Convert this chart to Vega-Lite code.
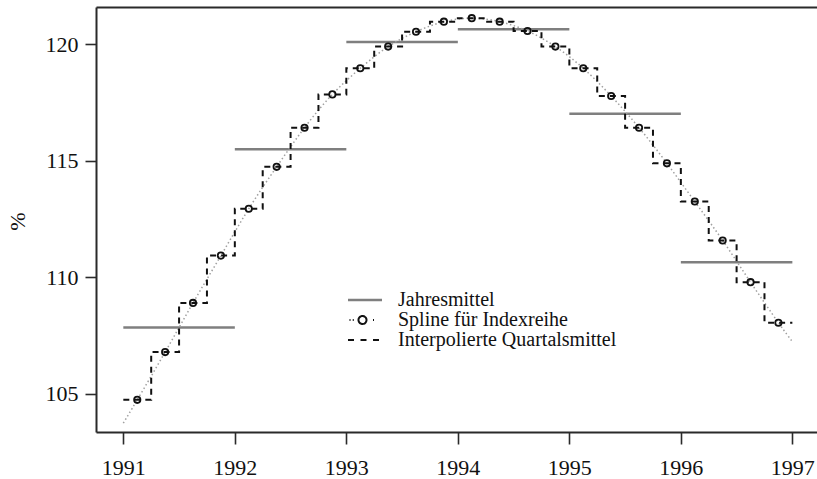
{
  "$schema": "https://vega.github.io/schema/vega-lite/v6.json",
  "autosize": {"type": "none"},
  "width": 721,
  "height": 425,
  "padding": {"left": 96, "top": 7, "right": 0, "bottom": 47},
  "background": "white",
  "config": {
    "view": {"stroke": null},
    "axis": {
      "grid": false,
      "labelFont": "Liberation Serif",
      "labelFontSize": 22,
      "labelColor": "#111",
      "titleFont": "Liberation Serif",
      "titleFontSize": 22,
      "titleFontWeight": "normal",
      "titleColor": "#111",
      "domainColor": "#2a2a2a",
      "domainWidth": 2,
      "tickColor": "#2a2a2a",
      "tickWidth": 1.6
    }
  },
  "datasets": {
    "annual": [
      {"series": "Jahresmittel", "x": 1991, "x2": 1992, "y": 107.84},
      {"series": "Jahresmittel", "x": 1992, "x2": 1993, "y": 115.49},
      {"series": "Jahresmittel", "x": 1993, "x2": 1994, "y": 120.10},
      {"series": "Jahresmittel", "x": 1994, "x2": 1995, "y": 120.64},
      {"series": "Jahresmittel", "x": 1995, "x2": 1996, "y": 117.02},
      {"series": "Jahresmittel", "x": 1996, "x2": 1997, "y": 110.65}
    ],
    "spline": [
      {"series": "Spline für Indexreihe", "x": 1991.0, "y": 103.74},
      {"series": "Spline für Indexreihe", "x": 1991.125, "y": 104.74},
      {"series": "Spline für Indexreihe", "x": 1991.375, "y": 106.79},
      {"series": "Spline für Indexreihe", "x": 1991.625, "y": 108.90},
      {"series": "Spline für Indexreihe", "x": 1991.875, "y": 110.93},
      {"series": "Spline für Indexreihe", "x": 1992.125, "y": 112.94},
      {"series": "Spline für Indexreihe", "x": 1992.375, "y": 114.74},
      {"series": "Spline für Indexreihe", "x": 1992.625, "y": 116.42},
      {"series": "Spline für Indexreihe", "x": 1992.875, "y": 117.85},
      {"series": "Spline für Indexreihe", "x": 1993.125, "y": 118.97},
      {"series": "Spline für Indexreihe", "x": 1993.375, "y": 119.90},
      {"series": "Spline für Indexreihe", "x": 1993.625, "y": 120.54},
      {"series": "Spline für Indexreihe", "x": 1993.875, "y": 120.97},
      {"series": "Spline für Indexreihe", "x": 1994.125, "y": 121.12},
      {"series": "Spline für Indexreihe", "x": 1994.375, "y": 120.97},
      {"series": "Spline für Indexreihe", "x": 1994.625, "y": 120.57},
      {"series": "Spline für Indexreihe", "x": 1994.875, "y": 119.90},
      {"series": "Spline für Indexreihe", "x": 1995.125, "y": 118.97},
      {"series": "Spline für Indexreihe", "x": 1995.375, "y": 117.78},
      {"series": "Spline für Indexreihe", "x": 1995.625, "y": 116.42},
      {"series": "Spline für Indexreihe", "x": 1995.875, "y": 114.89},
      {"series": "Spline für Indexreihe", "x": 1996.125, "y": 113.25},
      {"series": "Spline für Indexreihe", "x": 1996.375, "y": 111.58},
      {"series": "Spline für Indexreihe", "x": 1996.625, "y": 109.79},
      {"series": "Spline für Indexreihe", "x": 1996.875, "y": 108.05},
      {"series": "Spline für Indexreihe", "x": 1997.0, "y": 107.24}
    ],
    "quarters": [
      {"x": 1991.125, "y": 104.74}, {"x": 1991.375, "y": 106.79}, {"x": 1991.625, "y": 108.90}, {"x": 1991.875, "y": 110.93},
      {"x": 1992.125, "y": 112.94}, {"x": 1992.375, "y": 114.74}, {"x": 1992.625, "y": 116.42}, {"x": 1992.875, "y": 117.85},
      {"x": 1993.125, "y": 118.97}, {"x": 1993.375, "y": 119.90}, {"x": 1993.625, "y": 120.54}, {"x": 1993.875, "y": 120.97},
      {"x": 1994.125, "y": 121.12}, {"x": 1994.375, "y": 120.97}, {"x": 1994.625, "y": 120.57}, {"x": 1994.875, "y": 119.90},
      {"x": 1995.125, "y": 118.97}, {"x": 1995.375, "y": 117.78}, {"x": 1995.625, "y": 116.42}, {"x": 1995.875, "y": 114.89},
      {"x": 1996.125, "y": 113.25}, {"x": 1996.375, "y": 111.58}, {"x": 1996.625, "y": 109.79}, {"x": 1996.875, "y": 108.05}
    ],
    "steps": [
      {"series": "Interpolierte Quartalsmittel", "x": 1991.0, "y": 104.74},
      {"series": "Interpolierte Quartalsmittel", "x": 1991.25, "y": 106.79},
      {"series": "Interpolierte Quartalsmittel", "x": 1991.5, "y": 108.90},
      {"series": "Interpolierte Quartalsmittel", "x": 1991.75, "y": 110.93},
      {"series": "Interpolierte Quartalsmittel", "x": 1992.0, "y": 112.94},
      {"series": "Interpolierte Quartalsmittel", "x": 1992.25, "y": 114.74},
      {"series": "Interpolierte Quartalsmittel", "x": 1992.5, "y": 116.42},
      {"series": "Interpolierte Quartalsmittel", "x": 1992.75, "y": 117.85},
      {"series": "Interpolierte Quartalsmittel", "x": 1993.0, "y": 118.97},
      {"series": "Interpolierte Quartalsmittel", "x": 1993.25, "y": 119.90},
      {"series": "Interpolierte Quartalsmittel", "x": 1993.5, "y": 120.54},
      {"series": "Interpolierte Quartalsmittel", "x": 1993.75, "y": 120.97},
      {"series": "Interpolierte Quartalsmittel", "x": 1994.0, "y": 121.12},
      {"series": "Interpolierte Quartalsmittel", "x": 1994.25, "y": 120.97},
      {"series": "Interpolierte Quartalsmittel", "x": 1994.5, "y": 120.57},
      {"series": "Interpolierte Quartalsmittel", "x": 1994.75, "y": 119.90},
      {"series": "Interpolierte Quartalsmittel", "x": 1995.0, "y": 118.97},
      {"series": "Interpolierte Quartalsmittel", "x": 1995.25, "y": 117.78},
      {"series": "Interpolierte Quartalsmittel", "x": 1995.5, "y": 116.42},
      {"series": "Interpolierte Quartalsmittel", "x": 1995.75, "y": 114.89},
      {"series": "Interpolierte Quartalsmittel", "x": 1996.0, "y": 113.25},
      {"series": "Interpolierte Quartalsmittel", "x": 1996.25, "y": 111.58},
      {"series": "Interpolierte Quartalsmittel", "x": 1996.5, "y": 109.79},
      {"series": "Interpolierte Quartalsmittel", "x": 1996.75, "y": 108.05},
      {"series": "Interpolierte Quartalsmittel", "x": 1997.0, "y": 108.05}
    ]
  },
  "resolve": {"axis": {"x": "independent"}},
  "layer": [
    {
      "data": {"name": "annual"},
      "mark": {"type": "rule", "strokeWidth": 2.5},
      "encoding": {
        "x": {"field": "x", "type": "quantitative",
          "scale": {"domain": [1990.755, 1997.221], "nice": false, "zero": false},
          "axis": {"title": null, "values": [1991, 1992, 1993, 1994, 1995, 1996, 1997], "format": "d",
            "tickSize": 12, "labelPadding": 13, "labelFlush": false, "labelOverlap": false}},
        "x2": {"field": "x2"},
        "y": {"field": "y", "type": "quantitative",
          "scale": {"domain": [103.36, 121.6], "nice": false, "zero": false},
          "axis": {"title": "%", "values": [105, 110, 115, 120], "tickSize": 11, "labelPadding": 7,
            "labelFlush": false, "titleX": -67, "titleY": 214, "titleAngle": 270, "titleBaseline": "bottom", "titleAlign": "center"}},
        "color": {"field": "series", "type": "nominal",
          "scale": {"domain": ["Jahresmittel", "Spline für Indexreihe", "Interpolierte Quartalsmittel"],
                    "range": ["#7f7f7f", "#111111", "#111111"]},
          "legend": {
            "title": null,
            "orient": "none",
            "legendX": 259,
            "legendY": 283,
            "padding": 0,
            "rowPadding": 0,
            "symbolOffset": 0,
            "labelOffset": 23,
            "labelFont": "Liberation Serif",
            "labelFontSize": 20,
            "labelColor": "#111",
            "labelLimit": 400,
            "symbolSize": 100,
            "symbolStrokeWidth": 2,
            "symbolType": "stroke",
            "encode": {
              "symbols": {
                "update": {
                  "shape": {"signal": "datum.value === 'Spline für Indexreihe' ? 'M-3.1,0L-2.9,0M-2.45,0L-2.25,0M1.6,0L1.8,0M-1.3,0A0.8,0.8 0 1,0 0.3,0A0.8,0.8 0 1,0 -1.3,0' : 'M-3.4,0L3.4,0'"},
                  "strokeDash": {"signal": "datum.value === 'Interpolierte Quartalsmittel' ? [6,6.5] : [1,0]"},
                  "strokeWidth": {"signal": "datum.value === 'Jahresmittel' ? 2.5 : 2"},
                  "fill": {"value": "transparent"},
                  "opacity": {"value": 1}
                }
              }
            }
          }
        }
      }
    },
    {
      "data": {"name": "spline"},
      "mark": {"type": "line", "interpolate": "natural", "strokeWidth": 1.5, "strokeDash": [1.5, 2.5], "color": "#a0a0a0"},
      "encoding": {
        "x": {"field": "x", "type": "quantitative", "axis": null},
        "y": {"field": "y", "type": "quantitative"}
      }
    },
    {
      "data": {"name": "steps"},
      "mark": {"type": "line", "interpolate": "step-after", "strokeWidth": 2, "strokeDash": [6, 5]},
      "encoding": {
        "x": {"field": "x", "type": "quantitative", "axis": null},
        "y": {"field": "y", "type": "quantitative"},
        "color": {"field": "series", "type": "nominal"}
      }
    },
    {
      "data": {"name": "quarters"},
      "mark": {"type": "point", "shape": "circle", "filled": false, "color": "#111111", "size": 40, "strokeWidth": 1.8, "opacity": 1},
      "encoding": {
        "x": {"field": "x", "type": "quantitative", "axis": null},
        "y": {"field": "y", "type": "quantitative"}
      }
    },
    {
      "data": {"name": "quarters"},
      "mark": {"type": "point", "opacity": 0},
      "encoding": {
        "x": {"field": "x", "type": "quantitative",
          "axis": {"orient": "top", "title": null, "labels": false, "ticks": false, "domain": true}},
        "y": {"field": "y", "type": "quantitative"}
      }
    }
  ]
}
